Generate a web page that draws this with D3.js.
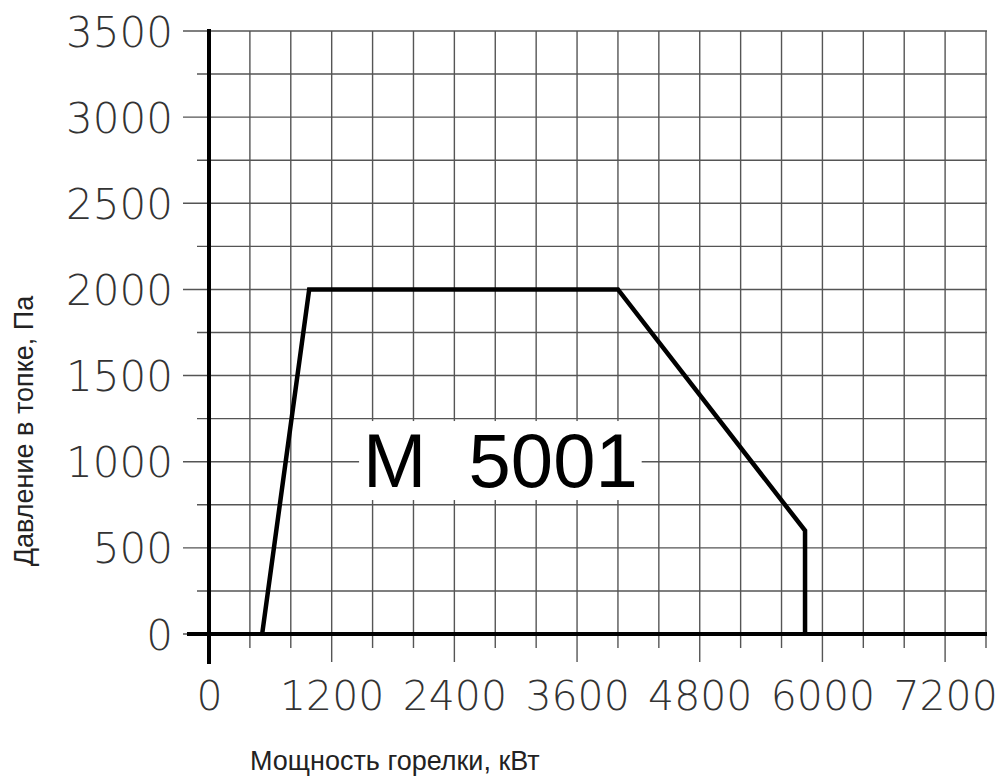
<!DOCTYPE html>
<html>
<head>
<meta charset="utf-8">
<script src="https://cdnjs.cloudflare.com/ajax/libs/d3/7.8.5/d3.min.js"></script>
<style>
  body { margin: 0; background: #fff; }
</style>
</head>
<body>
<svg id="plot"></svg>
<script>
// data
const xLabels = [0, 1200, 2400, 3600, 4800, 6000, 7200];
const yLabels = [0, 500, 1000, 1500, 2000, 2500, 3000, 3500];
const power = [520, 980, 4000, 5830, 5830];      // кВт
const pressure = [0, 2000, 2000, 600, 0];        // Па
const modelName = "M  5001";

let width = 1001;
let height = 777;

let svg = d3.select('#plot')
    .attr('width', width)
    .attr('height', height)
    .style('background', '#FFFFFF');

let xScale = d3.scaleLinear().domain([0, 7600]).range([209, 986]);
let yScale = d3.scaleLinear().domain([0, 3500]).range([634, 31]);

// grid - minor steps of 400 kW and 250 Pa
let xGrid = d3.range(400, 7601, 400);
let yGrid = d3.range(0, 3501, 250);

svg.append('g').selectAll('line')
    .data(xGrid)
    .enter()
    .append('line')
    .attr('x1', d => xScale(d))
    .attr('x2', d => xScale(d))
    .attr('y1', yScale(3500))
    .attr('y2', d => d % 1200 === 0 ? 662 : 648)
    .attr('stroke', '#555')
    .attr('stroke-width', 1.4);

svg.append('g').selectAll('line')
    .data(yGrid)
    .enter()
    .append('line')
    .attr('x1', d => d % 500 === 0 ? 183 : 197)
    .attr('x2', xScale(7600) + 1)
    .attr('y1', d => yScale(d))
    .attr('y2', d => yScale(d))
    .attr('stroke', '#555')
    .attr('stroke-width', 1.4);

// main axes
svg.append('line')
    .attr('x1', xScale(0)).attr('x2', xScale(0))
    .attr('y1', yScale(3500) - 2).attr('y2', 664)
    .attr('stroke', '#000').attr('stroke-width', 4);

svg.append('line')
    .attr('x1', 187).attr('x2', xScale(7600) + 1)
    .attr('y1', yScale(0)).attr('y2', yScale(0))
    .attr('stroke', '#000').attr('stroke-width', 4);

// tick labels
const yAxe = d3.axisLeft(yScale).tickValues(yLabels).tickFormat(d3.format('d')).tickSize(0).tickPadding(0);
let yAxis = svg.append('g')
    .attr('transform', 'translate(173, 0)')
    .call(yAxe);
yAxis.select('.domain').remove();
yAxis.selectAll('text')
    .attr('dy', '0.36em')
    .style('font-family', '"DejaVu Sans", sans-serif')
    .style('font-weight', 200)
    .style('font-size', '42px')
    .style('fill', '#333');

const xAxe = d3.axisBottom(xScale).tickValues(xLabels).tickFormat(d3.format('d')).tickSize(0).tickPadding(0);
let xAxis = svg.append('g')
    .attr('transform', 'translate(0, 680)')
    .call(xAxe);
xAxis.select('.domain').remove();
xAxis.selectAll('text')
    .attr('dy', '0.72em')
    .style('font-family', '"DejaVu Sans", sans-serif')
    .style('font-weight', 200)
    .style('font-size', '41px')
    .style('fill', '#333');

// envelope
let line = d3.line()
    .x((d, i) => xScale(power[i]))
    .y((d, i) => yScale(pressure[i]));

svg.append('path')
    .datum(power)
    .attr('d', line)
    .attr('fill', 'none')
    .attr('stroke', '#000')
    .attr('stroke-width', 4.5)
    .attr('stroke-linejoin', 'miter');

// model label with white background
let label = svg.append('g');
let bg = label.append('rect').attr('fill', '#fff');
let txt = label.append('text')
    .attr('x', xScale(2850))
    .attr('y', yScale(853))
    .attr('text-anchor', 'middle')
    .style('white-space', 'pre')
    .style('font-family', '"Liberation Sans", Arial, sans-serif')
    .style('font-size', '76px')
    .style('fill', '#000')
    .text(modelName);
let bb = txt.node().getBBox();
bg.attr('x', bb.x - 4)
    .attr('y', bb.y + 3)
    .attr('width', bb.width + 8)
    .attr('height', bb.height - 6);

// axis titles
svg.append('text')
    .attr('transform', 'translate(33, 431) rotate(-90)')
    .attr('text-anchor', 'middle')
    .style('font-family', '"Liberation Sans", Arial, sans-serif')
    .style('font-size', '27px')
    .style('fill', '#222')
    .text('Давление в топке, Па');

svg.append('text')
    .attr('x', 250)
    .attr('y', 770)
    .style('font-family', '"Liberation Sans", Arial, sans-serif')
    .style('font-size', '27px')
    .style('fill', '#222')
    .text('Мощность горелки, кВт');
</script>
</body>
</html>
